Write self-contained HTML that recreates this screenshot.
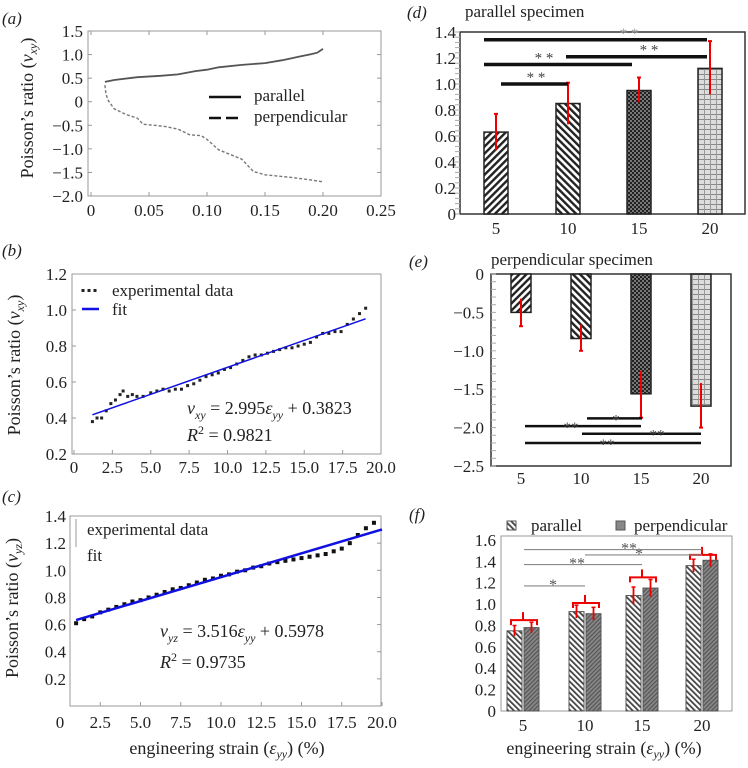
<!DOCTYPE html>
<html><head><meta charset="utf-8"><style>
html,body{margin:0;padding:0;background:#fff}
svg{display:block;font-family:"Liberation Serif","DejaVu Serif",serif}
text{font-family:"Liberation Serif","DejaVu Serif",serif}
</style></head><body>
<svg id="fig" width="748" height="768" viewBox="0 0 748 768" xmlns="http://www.w3.org/2000/svg">
<defs>
<pattern id="p1" width="5" height="5" patternUnits="userSpaceOnUse" patternTransform="rotate(45)"><rect width="5" height="5" fill="#fff"/><rect width="2.4" height="5" fill="#222"/></pattern>
<pattern id="p2" width="5" height="5" patternUnits="userSpaceOnUse" patternTransform="rotate(-45)"><rect width="5" height="5" fill="#fff"/><rect width="2.4" height="5" fill="#222"/></pattern>
<pattern id="p3" width="4" height="4" patternUnits="userSpaceOnUse"><rect width="4" height="4" fill="#777"/><rect width="2" height="2" fill="#222"/><rect x="2" y="2" width="2" height="2" fill="#222"/></pattern>
<pattern id="p4" width="6" height="5" patternUnits="userSpaceOnUse"><rect width="6" height="5" fill="#ddd"/><rect y="4" width="6" height="1" fill="#888"/><rect x="2" width="1" height="5" fill="#999"/></pattern>
<pattern id="p5" width="4" height="4" patternUnits="userSpaceOnUse" patternTransform="rotate(-45)"><rect width="4" height="4" fill="#fff"/><rect width="1.8" height="4" fill="#444"/></pattern>
<pattern id="p6" width="3" height="3" patternUnits="userSpaceOnUse" patternTransform="rotate(45)"><rect width="3" height="3" fill="#888"/><rect width="1.2" height="3" fill="#555"/></pattern>
</defs>
<g id="root"></g>
</svg>
<script>
// ---- data ----
const aParX=[0.012,0.02,0.04,0.06,0.075,0.09,0.1,0.11,0.13,0.15,0.165,0.18,0.19,0.195,0.2];
const aParY=[0.42,0.46,0.52,0.55,0.58,0.65,0.68,0.73,0.78,0.82,0.88,0.96,1.01,1.04,1.12];
const aPerX=[0.012,0.013,0.015,0.02,0.03,0.04,0.045,0.055,0.065,0.075,0.085,0.095,0.1,0.11,0.12,0.13,0.14,0.15,0.17,0.19,0.2];
const aPerY=[0.35,0.15,0.02,-0.15,-0.27,-0.35,-0.48,-0.5,-0.53,-0.58,-0.7,-0.72,-0.8,-1.02,-1.12,-1.22,-1.48,-1.55,-1.6,-1.66,-1.7];
const aXTicks=["0","0.05","0.10","0.15","0.20","0.25"];
const aYTicks=["1.5","1.0","0.5","0","−0.5","−1.0","−1.5","−2.0"];

const bX=[1.2,1.5,1.8,2.1,2.4,2.7,3.0,3.2,3.5,3.8,4.1,4.5,5.0,5.4,5.8,6.2,6.6,7.0,7.4,7.8,8.2,8.6,9.0,9.4,9.8,10.2,10.6,11.0,11.4,11.8,12.2,12.6,13.0,13.4,13.8,14.2,14.6,15.0,15.4,15.8,16.2,16.6,17.0,17.4,17.8,18.2,18.6,19.0];
const bY=[0.38,0.40,0.40,0.44,0.48,0.50,0.53,0.55,0.52,0.53,0.52,0.52,0.54,0.55,0.56,0.55,0.56,0.56,0.58,0.59,0.61,0.63,0.64,0.65,0.67,0.68,0.70,0.72,0.74,0.75,0.75,0.76,0.77,0.78,0.79,0.79,0.80,0.81,0.82,0.85,0.87,0.87,0.88,0.88,0.92,0.95,0.98,1.01];
const bFitX=[1.2,19];
const bFitY=[0.418,0.951];
const bXTicks=["0","2.5","5.0","7.5","10.0","12.5","15.0","17.5","20.0"];
const bYTicks=["1.2","1.0","0.8","0.6","0.4","0.2"];

const cX=[1,1.5,2,2.5,3,3.5,4,4.5,5,5.5,6,6.5,7,7.5,8,8.5,9,9.5,10,10.5,11,11.5,12,12.5,13,13.5,14,14.5,15,15.5,16,16.5,17,17.5,18,18.5,19,19.5];
const cY=[0.61,0.64,0.66,0.69,0.71,0.73,0.75,0.77,0.78,0.80,0.82,0.84,0.86,0.87,0.89,0.91,0.93,0.94,0.96,0.97,0.99,1.00,1.02,1.03,1.05,1.06,1.07,1.08,1.09,1.10,1.11,1.12,1.14,1.16,1.20,1.26,1.31,1.35];
const cFitX=[1,20];
const cFitY=[0.633,1.301];
const cYTicks=["1.4","1.2","1.0","0.8","0.6","0.4","0.2"];

const barCats=["5","10","15","20"];
const dVals=[0.63,0.85,0.95,1.12];
const dErrLo=[0.49,0.69,0.86,0.92];
const dErrHi=[0.77,1.01,1.05,1.33];
const dYTicks=["0","0.2","0.4","0.6","0.8","1.0","1.2","1.4"];
const eVals=[-0.5,-0.84,-1.56,-1.72];
const eErrLo=[-0.68,-1.0,-1.87,-2.0];
const eErrHi=[-0.32,-0.66,-1.26,-1.42];
const eYTicks=["0","−0.5","−1.0","−1.5","−2.0","−2.5"];
const fPar=[0.75,0.93,1.08,1.36];
const fPerp=[0.78,0.91,1.15,1.41];
const fErr=[0.05,0.06,0.08,0.06];
const fBracket=[0.85,1.01,1.25,1.46];
const fYTicks=["0","0.2","0.4","0.6","0.8","1.0","1.2","1.4","1.6"];

const NS="http://www.w3.org/2000/svg";
const root=document.getElementById('root');
const FF='"Liberation Serif", "DejaVu Serif", serif';
function mk(tag,name,attrs,parent){
  const el=document.createElementNS(NS,tag);
  
  
  for(const k in attrs) el.setAttribute(k,attrs[k]);
  if(tag==='text') el.setAttribute('font-family',FF);
  (parent||root).appendChild(el);
  return el;
}
function ts(t,s,attrs){const e=document.createElementNS(NS,'tspan');for(const k in (attrs||{}))e.setAttribute(k,attrs[k]);e.textContent=s;t.appendChild(e);return e;}
function txt(name,x,y,s,size,anchor,parent,extra){
  const t=mk('text',name,Object.assign({x:x,y:y,'font-size':size||17,'text-anchor':anchor||'start',fill:'#222'},extra||{}),parent);
  t.textContent=s; return t;
}
function poly(name,xs,ys,sx,sy,attrs,parent){
  const pts=xs.map((v,i)=>sx(v).toFixed(1)+','+sy(ys[i]).toFixed(1)).join(' ');
  return mk('polyline',name,Object.assign({points:pts,fill:'none'},attrs),parent);
}
function ylabel(name,cx,cy,main,sub,parent){
  const t=mk('text',name,{x:0,y:0,'font-size':18,'text-anchor':'middle',fill:'#222',transform:`translate(${cx},${cy}) rotate(-90)`},parent);
  ts(t,main+'(');ts(t,'ν',{'font-style':'italic'});ts(t,sub,{'font-style':'italic','font-size':12,dy:4});ts(t,')',{dy:-4});
}
function xlabel(name,cx,y,parent){
  const t=mk('text',name,{x:cx,y:y,'font-size':18,'text-anchor':'middle',fill:'#222'},parent);
  ts(t,'engineering strain (');ts(t,'ε',{'font-style':'italic'});ts(t,'yy',{'font-style':'italic','font-size':12,dy:4});ts(t,') (%)',{dy:-4});
}
function eqn(name,x,y,sub,coef,icpt,parent){
  const t=mk('text',name,{x:x,y:y,'font-size':18,fill:'#222'},parent);
  ts(t,'ν',{'font-style':'italic'});ts(t,sub,{'font-style':'italic','font-size':12,dy:5});
  ts(t,' = '+coef,{dy:-5});ts(t,'ε',{'font-style':'italic'});
  ts(t,'yy',{'font-style':'italic','font-size':12,dy:5});ts(t,' + '+icpt,{dy:-5});
}
function r2(name,x,y,val,parent){
  const t=mk('text',name,{x:x,y:y,'font-size':18,fill:'#222'},parent);
  ts(t,'R',{'font-style':'italic'});ts(t,'2',{'font-size':12,dy:-7});ts(t,' = '+val,{dy:7});
}

// ---- panel a ----
(function(){
  const g=mk('g','panel-a',{});
  const sx=v=>91+v/0.25*290, sy=v=>31+(1.5-v)/3.5*165;
  txt('panel-a-label',2,24,'(a)',17,'start',g,{'font-style':'italic'});
  mk('rect','plot-frame-a',{x:88,y:31,width:293,height:165,fill:'none',stroke:'#999','stroke-width':1},g);
  aXTicks.forEach((s,i)=>{const v=i*0.05;txt('x-tick-a',sx(v),216,s,17,'middle',g);
    mk('line','x-tickmark-a',{x1:sx(v),x2:sx(v),y1:196,y2:192,stroke:'#999'},g);mk('line','x-tickmark-a-top',{x1:sx(v),x2:sx(v),y1:31,y2:35,stroke:'#999'},g);});
  aYTicks.forEach((s,i)=>{const v=1.5-i*0.5;txt('y-tick-a',83,sy(v)+6,s,17,'end',g);
    mk('line','y-tickmark-a',{x1:88,x2:92,y1:sy(v),y2:sy(v),stroke:'#999'},g);mk('line','y-tickmark-a-right',{x1:381,x2:377,y1:sy(v),y2:sy(v),stroke:'#999'},g);});
  ylabel('y-axis-title-a',33,108,'Poisson’s ratio ','xy',g);
  poly('line-parallel',aParX,aParY,sx,sy,{stroke:'#555','stroke-width':1.8},g);
  poly('line-perpendicular',aPerX,aPerY,sx,sy,{stroke:'#777','stroke-width':1.4,'stroke-dasharray':'3,2'},g);
  mk('line','legend-parallel-line',{x1:209,x2:241,y1:97,y2:97,stroke:'#111','stroke-width':2.5},g);
  txt('legend-parallel',254,101,'parallel',17,'start',g);
  mk('line','legend-perpendicular-line',{x1:209,x2:243,y1:118,y2:118,stroke:'#111','stroke-width':2.5,'stroke-dasharray':'12,5'},g);
  txt('legend-perpendicular',254,122,'perpendicular',17,'start',g);
})();

// ---- panel b ----
(function(){
  const g=mk('g','panel-b',{});
  const sx=v=>74+v/20*307, sy=v=>274+(1.2-v)*180;
  txt('panel-b-label',2,256,'(b)',17,'start',g,{'font-style':'italic'});
  mk('rect','plot-frame-b',{x:72,y:274,width:309,height:180,fill:'none',stroke:'#999'},g);
  bXTicks.forEach((s,i)=>{const v=i*2.5;txt('x-tick-b',sx(v),473,s,17,'middle',g);
    mk('line','x-tickmark-b',{x1:sx(v),x2:sx(v),y1:454,y2:450,stroke:'#999'},g);});
  bYTicks.forEach((s,i)=>{const v=1.2-i*0.2;txt('y-tick-b',67,sy(v)+6,s,17,'end',g);
    mk('line','y-tickmark-b',{x1:72,x2:76,y1:sy(v),y2:sy(v),stroke:'#999'},g);});
  ylabel('y-axis-title-b',20,365,'Poisson’s ratio ','xy',g);
  bX.forEach((v,i)=>{mk('rect','data-point-b',{x:sx(v)-1.5,y:sy(bY[i])-1.5,width:3,height:3,fill:'#222'},g);});
  poly('fit-line-b',bFitX,bFitY,sx,sy,{stroke:'#1010e0','stroke-width':1.5},g);
  [83,89,95].forEach(x=>mk('rect','legend-dots-b',{x:x-1.5,y:289,width:3,height:3,fill:'#222'},g));
  txt('legend-experimental-b',112,296,'experimental data',17,'start',g);
  mk('line','legend-fit-line-b',{x1:82,x2:99,y1:309,y2:309,stroke:'#1010e0','stroke-width':2.5},g);
  txt('legend-fit-b',112,315,'fit',17,'start',g);
  eqn('equation-b',187,414,'xy','2.995','0.3823',g);
  r2('r-squared-b',187,441,'0.9821',g);
})();

// ---- panel c ----
(function(){
  const g=mk('g','panel-c',{});
  const sx=v=>60+v/20*322, sy=v=>706-v*135.7;
  txt('panel-c-label',2,502,'(c)',17,'start',g,{'font-style':'italic'});
  mk('rect','plot-frame-c',{x:70,y:516,width:311,height:190,fill:'none',stroke:'#999'},g);
  bXTicks.forEach((s,i)=>{const v=i*2.5;txt('x-tick-c',sx(v),728,s,17,'middle',g);
    if(i>0)mk('line','x-tickmark-c',{x1:sx(v),x2:sx(v),y1:706,y2:702,stroke:'#999'},g);});
  cYTicks.forEach((s,i)=>{const v=1.4-i*0.2;txt('y-tick-c',66,sy(v)+6,s,17,'end',g);
    mk('line','y-tickmark-c',{x1:377,x2:381,y1:sy(v),y2:sy(v),stroke:'#999'},g);});
  ylabel('y-axis-title-c',18,608,'Poisson’s ratio ','yz',g);
  cX.forEach((v,i)=>{mk('rect','data-point-c',{x:sx(v)-2,y:sy(cY[i])-2,width:4,height:4,fill:'#111'},g);});
  poly('fit-line-c',cFitX,cFitY,sx,sy,{stroke:'#1010e0','stroke-width':2.5},g);
  mk('line','legend-experimental-marker-c',{x1:76,x2:76,y1:519,y2:547,stroke:'#999','stroke-width':1},g);
  txt('legend-experimental-c',87,535,'experimental data',17,'start',g);
  txt('legend-fit-c',87,561,'fit',17,'start',g);
  eqn('equation-c',160,637,'yz','3.516','0.5978',g);
  r2('r-squared-c',160,668,'0.9735',g);
  xlabel('x-axis-title-c',227,754,g);
})();

// ---- panel d ----
const pats=['url(#p1)','url(#p2)','url(#p3)','url(#p4)'];
const dCx=[496,568,639,710];
(function(){
  const g=mk('g','panel-d',{});
  const sy=v=>214-v*130;
  txt('panel-d-label',407,18,'(d)',17,'start',g,{'font-style':'italic'});
  txt('title-d',465,17,'parallel specimen',17,'start',g);
  mk('rect','plot-frame-d',{x:460,y:32,width:285,height:182,fill:'none',stroke:'#333','stroke-width':1.5},g);
  for(let v=0;v<=1.4001;v+=0.04) mk('line','y-minor-tick-d',{x1:455,x2:460,y1:sy(v),y2:sy(v),stroke:'#aaa'},g);
  dYTicks.forEach((s,i)=>txt('y-tick-d',456,sy(i*0.2)+6,s,17,'end',g));
  barCats.forEach((c,i)=>{
    txt('x-tick-d',dCx[i],234,c,17,'middle',g);
    mk('rect','bar-d-'+c,{x:dCx[i]-12,y:sy(dVals[i]),width:24,height:sy(0)-sy(dVals[i]),fill:pats[i],stroke:'#222','stroke-width':1.5},g);
    mk('line','error-bar-d-'+c,{x1:dCx[i],x2:dCx[i],y1:sy(dErrLo[i]),y2:sy(dErrHi[i]),stroke:'#e00','stroke-width':2},g);
    mk('line','error-cap-d',{x1:dCx[i]-2,x2:dCx[i]+2,y1:sy(dErrHi[i]),y2:sy(dErrHi[i]),stroke:'#e00','stroke-width':2},g);
  });
  const sig=[[484,707,1.34,629,'* *','#999'],[566,707,1.21,649,'* *','#444'],[484,632,1.15,544,'* *','#444'],[501,568,1.0,536,'* *','#444']];
  sig.forEach(s=>{mk('line','significance-line-d',{x1:s[0],x2:s[1],y1:sy(s[2]),y2:sy(s[2]),stroke:'#111','stroke-width':3.5},g);
    txt('significance-stars-d',s[3],sy(s[2])-2,s[4],15,'middle',g,{fill:s[5]});});
})();

// ---- panel e ----
(function(){
  const g=mk('g','panel-e',{});
  const sy=v=>274-v*76.8;
  const cx=[521,581,641,701];
  txt('panel-e-label',409,267,'(e)',17,'start',g,{'font-style':'italic'});
  txt('title-e',491,265,'perpendicular specimen',17,'start',g);
  mk('rect','plot-frame-e',{x:491,y:274,width:240,height:192,fill:'none',stroke:'#333','stroke-width':1.5},g);
  for(let v=0;v>=-2.5001;v-=0.1) mk('line','y-minor-tick-e',{x1:491,x2:496,y1:sy(v),y2:sy(v),stroke:'#aaa'},g);
  eYTicks.forEach((s,i)=>txt('y-tick-e',484,sy(-i*0.5)+6,s,17,'end',g));
  barCats.forEach((c,i)=>{
    txt('x-tick-e',cx[i],484,c,17,'middle',g);
    mk('rect','bar-e-'+c,{x:cx[i]-10,y:sy(0),width:20,height:sy(eVals[i])-sy(0),fill:pats[i],stroke:'#222','stroke-width':1.5},g);
    mk('line','error-bar-e-'+c,{x1:cx[i],x2:cx[i],y1:sy(eErrLo[i]),y2:sy(eErrHi[i]),stroke:'#e00','stroke-width':2},g);
    mk('line','error-cap-e',{x1:cx[i]-2,x2:cx[i]+2,y1:sy(eErrLo[i]),y2:sy(eErrLo[i]),stroke:'#e00','stroke-width':2},g);
  });
  const sig=[[587,642,-1.88,616,'*'],[525,641,-1.98,571,'**'],[582,701,-2.08,657,'**'],[525,701,-2.2,607,'**']];
  sig.forEach(s=>{mk('line','significance-line-e',{x1:s[0],x2:s[1],y1:sy(s[2]),y2:sy(s[2]),stroke:'#111','stroke-width':2.5},g);
    txt('significance-stars-e',s[3],sy(s[2])+6,s[4],15,'middle',g,{fill:'#444'});});
})();

// ---- panel f ----
(function(){
  const g=mk('g','panel-f',{});
  const sy=v=>711-v*106.9;
  const cx=[523,585,642,702];
  txt('panel-f-label',409,520,'(f)',17,'start',g,{'font-style':'italic'});
  mk('rect','plot-frame-f',{x:501,y:536,width:231,height:175,fill:'none',stroke:'#999'},g);
  fYTicks.forEach((s,i)=>{txt('y-tick-f',496,sy(i*0.2)+6,s,17,'end',g);});
  barCats.forEach((c,i)=>{
    txt('x-tick-f',cx[i],731,c,17,'middle',g);
    mk('rect','bar-f-parallel-'+c,{x:cx[i]-16,y:sy(fPar[i]),width:15,height:sy(0)-sy(fPar[i]),fill:'url(#p5)',stroke:'#555','stroke-width':1},g);
    mk('rect','bar-f-perpendicular-'+c,{x:cx[i]+1,y:sy(fPerp[i]),width:15,height:sy(0)-sy(fPerp[i]),fill:'url(#p6)',stroke:'#555','stroke-width':1},g);
    [[cx[i]-8.5,fPar[i]],[cx[i]+8.5,fPerp[i]]].forEach(p=>{
      mk('line','error-bar-f',{x1:p[0],x2:p[0],y1:sy(p[1]-fErr[i]),y2:sy(p[1]+fErr[i]),stroke:'#e00','stroke-width':1.8},g);
      mk('line','error-cap-f',{x1:p[0]-2,x2:p[0]+2,y1:sy(p[1]+fErr[i]),y2:sy(p[1]+fErr[i]),stroke:'#e00','stroke-width':1.5},g);
    });
    const by=sy(fBracket[i]);
    mk('path','bracket-f-'+c,{d:`M${cx[i]-12},${by+5}V${by}H${cx[i]+14}V${by+5}M${cx[i]},${by}V${by-8}`,fill:'none',stroke:'#e00','stroke-width':2},g);
  });
  const sig=[[524,585,1.17,553,'*'],[524,642,1.37,577,'**'],[585,702,1.46,639,'*'],[524,702,1.51,629,'**']];
  sig.forEach(s=>{mk('line','significance-line-f',{x1:s[0],x2:s[1],y1:sy(s[2]),y2:sy(s[2]),stroke:'#888','stroke-width':1.2},g);
    txt('significance-stars-f',s[3],sy(s[2])+4,s[4],16,'middle',g,{fill:'#555'});});
  mk('rect','legend-parallel-swatch-f',{x:507,y:521,width:9,height:9,fill:'url(#p5)',stroke:'#555'},g);
  txt('legend-parallel-f',531,531,'parallel',17,'start',g);
  mk('rect','legend-perpendicular-swatch-f',{x:616,y:521,width:9,height:9,fill:'#888',stroke:'#555'},g);
  txt('legend-perpendicular-f',634,531,'perpendicular',17,'start',g);
  xlabel('x-axis-title-f',604,754,g);
})();
</script>
</body></html>
